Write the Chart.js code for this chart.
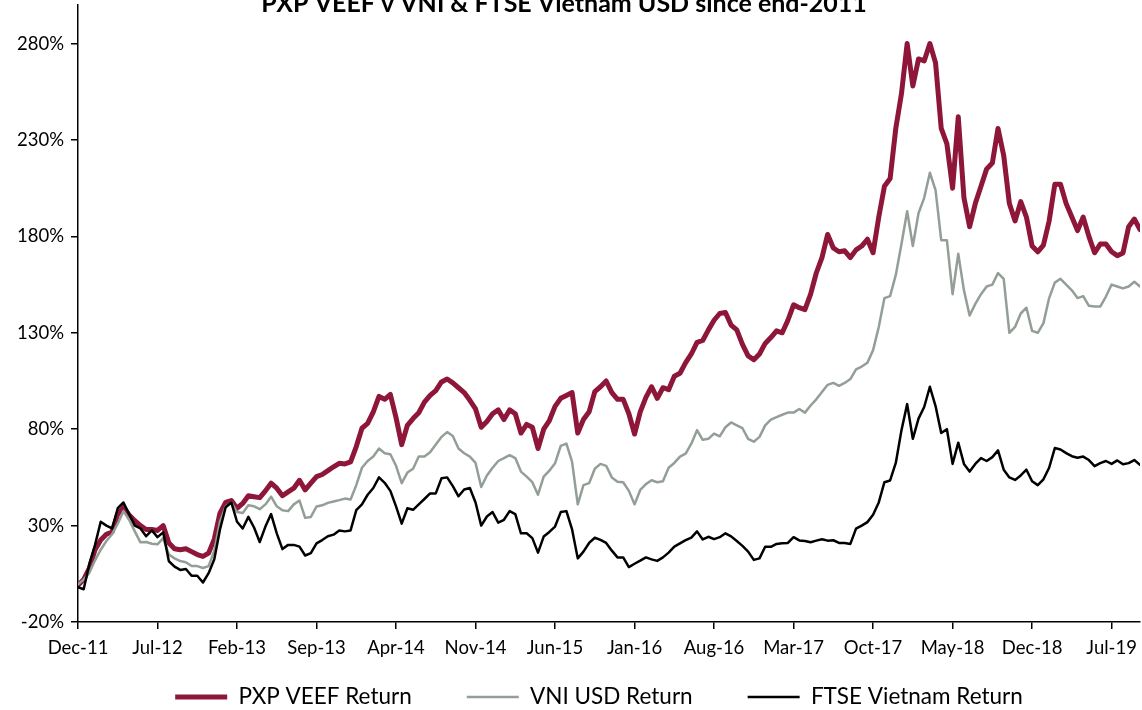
<!DOCTYPE html>
<html>
<head>
<meta charset="utf-8">
<title>PXP VEEF v VNI &amp; FTSE Vietnam USD since end-2011</title>
<script src="https://cdn.jsdelivr.net/npm/chart.js@4.4.1/dist/chart.umd.min.js"></script>
<style>
  html, body { margin: 0; padding: 0; background: #fff; overflow: hidden; }
  #wrap { position: relative; width: 1142px; height: 710px; overflow: hidden; }
  canvas { display: block; }
</style>
</head>
<body>
<div id="wrap"><canvas id="chart" width="1142" height="756"></canvas></div>
<script>
// ── Data (cumulative return in %, one reading every half month from end-2011) ──
const TITLE = 'PXP VEEF v VNI & FTSE Vietnam USD since end-2011';

const PXP_VEEF = [
  -1, 2, 8, 17.5, 22.5, 25.5, 26.7, 36, 39.5, 35.5,
  32.5, 30, 28, 28, 27.5, 30, 21, 18, 17.5, 18,
  16.5, 15, 14, 15.7, 23, 36.5, 42, 43, 39, 41.5,
  45.5, 45, 44.5, 48, 52, 49.4, 45.5, 47.5, 49.4, 53.5,
  48.5, 52, 55.4, 56.5, 58.5, 60.5, 62.3, 62, 63, 71,
  80.5, 83, 89, 97, 95.5, 98, 86, 72, 82, 85.5,
  88.5, 94, 97.5, 100, 104.5, 106, 104, 101.5, 99, 95,
  90.5, 81, 84, 88, 90, 85, 90, 88, 78, 82.5,
  81, 70, 80, 84.5, 91.8, 96, 97.5, 99, 78, 85,
  89, 99.5, 102, 105, 99, 95.5, 95.5, 88, 77.5, 89,
  96.5, 102, 96, 101.5, 100.5, 107.5, 109, 114.5, 119, 125,
  126, 131.5, 136.5, 140, 140.5, 134, 131.5, 124, 118, 116,
  119, 124.5, 127.5, 131, 130, 136.5, 144.5, 143, 142, 150,
  161, 169, 181, 174, 172, 172.5, 169, 173, 175, 178.5,
  171.5, 190, 206, 210, 236, 254, 280, 258, 272, 271,
  280, 270, 236, 228, 205, 242, 200, 185, 197, 206,
  215, 218, 236, 222, 197, 188, 198, 190, 175, 172,
  175.5, 188, 207, 207, 197, 190, 183, 190, 180, 171.5,
  176, 176, 172, 170, 171.4, 185, 189, 183.5
];

const VNI_USD = [
  -0.5, 2, 5.5, 12, 17.5, 22, 25.5, 31, 37.5, 33,
  27, 21.3, 21.5, 20.6, 20.3, 23.5, 15, 13, 11.6, 11,
  9, 9, 8, 9, 17, 32, 39.9, 42, 37, 36.5,
  40.5, 40, 38.5, 41, 45, 40, 38, 37.5, 41, 43,
  34, 34.5, 39.9, 40.5, 41.8, 42.5, 43.2, 44, 43.5, 51,
  60, 63.5, 65.8, 70, 67.5, 67, 61, 52, 57.5, 59.5,
  65.8, 65.8, 68, 72, 76, 78.5, 76.5, 70, 67.5, 65.8,
  62.5, 50, 56, 60, 63.5, 65, 66.5, 65, 58, 55.4,
  52.5, 46, 55.4, 58.5, 62.3, 71.3, 72.5, 63, 41, 51,
  52, 59.5, 62, 61, 55, 52.8, 52.5, 48, 41, 48.5,
  51.5, 53.5, 52.5, 53, 60, 62.5, 65.8, 67.3, 72.5, 79.5,
  74.5, 75, 77.7, 76.3, 81, 83.5, 82, 80.5, 75, 73.5,
  76, 82, 85, 86.3, 87.5, 88.6, 88.6, 90.5, 88.6, 92.3,
  95.5, 99.3, 103, 104, 102.5, 104, 106, 111, 112.5, 114.5,
  121, 133, 148, 149, 160, 176, 193, 175, 192, 200,
  213, 204, 178, 178, 150, 171, 152, 139, 145, 150,
  154, 155, 161, 158, 130, 133, 140, 143, 131, 130,
  135, 148, 156, 158, 155, 152, 148, 149, 144, 143.6,
  143.6, 148.8, 155, 154, 153, 154, 156.5, 154
];

const FTSE_VN = [
  -2, -3, 10, 20, 32, 30, 28.5, 39, 42, 36,
  30, 28.5, 24.5, 27.5, 24, 26.5, 11.5, 8.7, 7, 7.5,
  4, 4, 0.5, 5.3, 12.5, 28, 39.5, 42, 32, 28.5,
  34.5, 29, 21.5, 29.5, 36, 26, 17.8, 20, 20, 19.1,
  14.5, 15.7, 20.8, 22.5, 24.5, 25.3, 27.5, 27, 27.5, 38,
  41, 46, 49.5, 55, 52.2, 48, 40, 31, 39, 38.2,
  41, 43.8, 46.7, 46.7, 54.5, 55, 50.5, 45.2, 48.7, 49.5,
  42, 30, 34.7, 37, 31.5, 33, 37.5, 36, 26, 26,
  23.5, 16, 24.3, 26.7, 29.5, 37, 37.5, 28, 13, 16.5,
  21, 23.7, 22.6, 21, 17, 13.5, 13.5, 8.5, 10.2, 11.8,
  13.5, 12.5, 11.7, 13.5, 16, 19.1, 20.8, 22.5, 23.8, 27,
  22.8, 24.2, 23, 24, 26, 24.4, 22, 19.5, 16.5, 12.2,
  13, 19, 19, 20.5, 20.8, 21, 24, 22.3, 22, 21.4,
  22.2, 22.9, 22.2, 22.4, 21, 21, 20.5, 28.4, 30, 31.8,
  35.6, 42, 52.5, 53.4, 62.5, 79.5, 93, 75, 85.5, 91.5,
  102, 92, 78, 80, 62, 73, 62, 58, 62, 65,
  63.5, 65.5, 69, 59, 55, 53.7, 56, 59, 53, 51,
  54, 60, 70.2, 69.5, 67.6, 66, 65.2, 65.8, 64, 60.8,
  62.4, 63.5, 62, 63.8, 61.8, 62.4, 64, 61.5
];

// months since end-2011, half-month steps
const MONTHS = PXP_VEEF.map((_, i) => i / 2);

const X_TICKS  = [0, 7, 14, 21, 28, 35, 42, 49, 56, 63, 70, 77, 84, 91];
const X_LABELS = ['Dec-11', 'Jul-12', 'Feb-13', 'Sep-13', 'Apr-14', 'Nov-14', 'Jun-15',
                  'Jan-16', 'Aug-16', 'Mar-17', 'Oct-17', 'May-18', 'Dec-18', 'Jul-19'];
const Y_TICKS  = [-20, 30, 80, 130, 180, 230, 280];

const toPoints = vals => vals.map((v, i) => ({ x: MONTHS[i], y: v }));

// ── Title (sits partly above the page edge, like the original) ───────────────
const cutTitle = {
  id: 'cutTitle',
  afterDraw(chart) {
    const ctx = chart.ctx;
    ctx.save();
    ctx.font = 'bold 25px Lato';
    ctx.fillStyle = '#000';
    ctx.textAlign = 'center';
    ctx.textBaseline = 'alphabetic';
    ctx.fillText(TITLE, 564, 12);
    ctx.restore();
  }
};

// legend keeps wide gaps between items but sits close under the axis labels
const LEGEND_Y = 697;
const LEGEND_DX = -10;
const liftLegend = {
  id: 'liftLegend',
  afterLayout(chart) {
    const lg = chart.legend;
    const lab = lg.options.labels;
    const dy = lg.top + lab.padding + lab.font.size / 2 - LEGEND_Y;
    lg.top -= dy;
    lg.bottom -= dy;
    lg.left += LEGEND_DX;
    lg.right += LEGEND_DX;
  }
};

const AXIS_FONT = { family: 'Lato', size: 18.5 };

new Chart(document.getElementById('chart'), {
  type: 'line',
  data: {
    datasets: [
      { label: 'PXP VEEF Return', data: toPoints(PXP_VEEF), borderColor: '#8D1639', backgroundColor: '#8D1639', borderWidth: 5, order: 3 },
      { label: 'VNI USD Return', data: toPoints(VNI_USD), borderColor: '#939F96', backgroundColor: '#939F96', borderWidth: 2.5, order: 2 },
      { label: 'FTSE Vietnam Return', data: toPoints(FTSE_VN), borderColor: '#000000', backgroundColor: '#000000', borderWidth: 2.5, order: 1 },
    ]
  },
  options: {
    responsive: false,
    devicePixelRatio: 1,
    animation: false,
    layout: { padding: { left: 0, right: 2, top: 5, bottom: 0.5 } },
    elements: {
      point: { radius: 0, hoverRadius: 0 },
      line: { tension: 0, borderJoinStyle: 'round', borderCapStyle: 'round' },
    },
    plugins: {
      title: { display: false },
      tooltip: { enabled: false },
      legend: {
        position: 'bottom',
        fullSize: false,
        labels: {
          usePointStyle: true,
          pointStyle: 'line',
          pointStyleWidth: 52,
          padding: 55,
          color: '#000',
          font: { family: 'Lato', size: 22.5 },
          sort: (a, b) => a.datasetIndex - b.datasetIndex,
        }
      }
    },
    scales: {
      x: {
        type: 'linear',
        min: 0, max: 93.5,
        afterFit: s => { s.height = 46; s.paddingLeft = 0; s.paddingRight = 0; },
        afterBuildTicks: s => { s.ticks = X_TICKS.map(v => ({ value: v })); },
        ticks: {
          autoSkip: false, maxRotation: 0, padding: 8, color: '#000', font: AXIS_FONT,
          callback: v => X_LABELS[X_TICKS.indexOf(v)] || '',
        },
        grid: { drawOnChartArea: false, drawTicks: true, tickLength: 7, color: '#000', lineWidth: 1.5 },
        border: { display: true, color: '#000', width: 1.5 },
      },
      y: {
        min: -20, max: 300,
        afterFit: s => { s.width = 78; s.paddingTop = 0; s.paddingBottom = 0; },
        afterBuildTicks: s => { s.ticks = Y_TICKS.map(v => ({ value: v })); },
        ticks: { padding: 7, color: '#000', font: AXIS_FONT, callback: v => v + '%' },
        grid: { drawOnChartArea: false, drawTicks: true, tickLength: 7, color: '#000', lineWidth: 1.5 },
        border: { display: true, color: '#000', width: 1.5 },
      }
    }
  },
  plugins: [cutTitle, liftLegend]
});
</script>
</body>
</html>
